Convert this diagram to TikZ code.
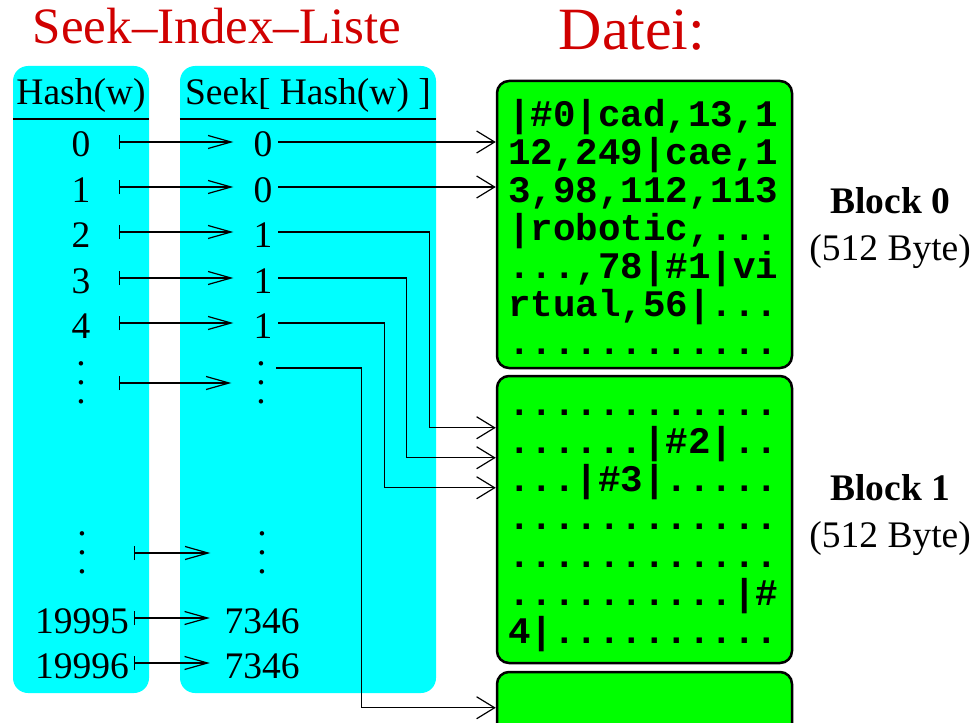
\documentclass[tikz,border=0pt]{standalone}
\usepackage{fontspec}
\setmainfont{Liberation Serif}
\setmonofont{Liberation Mono}
\usetikzlibrary{arrows.meta, positioning}

\definecolor{titlered}{RGB}{208,0,0}
\definecolor{listcyan}{RGB}{0,255,255}
\definecolor{blockgreen}{RGB}{0,255,0}

% three stacked dots, spaced for the big body font
\newcommand{\colvdots}{\vbox{\baselineskip=19pt\lineskiplimit=-50pt\hbox{.}\hbox{.}\hbox{.}}}

\begin{document}
\begin{tikzpicture}[x=1pt, y=-1pt,
    every node/.style={inner sep=0pt},
    bodyfont/.style={font=\fontsize{37.5}{42}\selectfont},
    listcol/.style={fill=listcyan, rounded corners=15pt, minimum height=627pt},
    headrule/.style={line width=2pt},
    hashval/.style={bodyfont, minimum width=76pt, text height=37.5pt, text depth=7.5pt},
    hashwide/.style={bodyfont, minimum width=104pt, text height=37.5pt, text depth=7.5pt},
    seekval/.style={bodyfont, minimum width=30pt, text height=37.5pt, text depth=7.5pt},
    seekwide/.style={bodyfont, minimum width=74pt, text height=37.5pt, text depth=7.5pt},
    mapsto/.style={line width=1.2pt, {Bar[width=14pt]}-{Straight Barb[length=23pt,width=13pt]}, shorten >=14.5pt},
    fileptr/.style={line width=1.2pt, -{Straight Barb[length=18pt,width=22pt]}},
    fileblock/.style={draw, line width=2.5pt, fill=blockgreen, rounded corners=12pt,
        minimum width=295pt, minimum height=287pt},
    blocktext/.style={font={\ttfamily\bfseries\fontsize{37.5}{38}\selectfont\lineskiplimit=-30pt},
        anchor=base west, text width=290pt, align=left},
    blklabel/.style={font=\fontsize{37.5}{47}\selectfont, align=center}]

    \clip (0,0) rectangle (976,722);

    % titles
    \node[font=\fontsize{51}{60}\selectfont, text=titlered, anchor=base] (listtitle) at (217,44) {Seek\textendash Index\textendash Liste};
    \node[font=\fontsize{60}{70}\selectfont, text=titlered, anchor=base] (filetitle) at (632,50) {Datei:};

    % the two columns of the index list
    \node[listcol, minimum width=136pt] (hcol) at (81,379.5) {};
    \node[listcol, minimum width=256pt] (scol) at (308,379.5) {};
    \node[bodyfont, anchor=base] (hhead) at (81,105) {Hash(w)};
    \node[bodyfont, anchor=base] (shead) at (308,105) {Seek[ Hash(w) ]};
    \draw[headrule] ([yshift=-53pt]hcol.north west) -- ([yshift=-53pt]hcol.north east);
    \draw[headrule] ([yshift=-53pt]scol.north west) -- ([yshift=-53pt]scol.north east);

    % blocks of the file
    \node[fileblock] (blk0) at (644.5,224.5) {};
    \node[fileblock] (blk1) at (644.5,519.5) {};
    \node[fileblock] (blk2) at (644.5,815.5) {};

    \node[blocktext] (txt0) at (508,127) {|\#0|cad,13,1\\12,249|cae,1\\3,98,112,113\\|robotic,...\\...,78|\#1|vi\\rtual,56|...\\............};
    \node[blocktext] (txt1) at (508,415) {............\\......|\#2|..\\...|\#3|.....\\............\\............\\..........|\#\\4|..........};

    \node[blklabel, right=16pt of blk0, yshift=-4pt] (lbl0) {\textbf{Block 0}\\(512 Byte)};
    \node[blklabel, right=16pt of blk1, yshift=4pt] (lbl1) {\textbf{Block 1}\\(512 Byte)};

    % first entries
    \foreach \i/\y/\s in {0/142/0, 1/187/0, 2/232/1, 3/278/1, 4/323/1} {
        \node[hashval] (h\i) at (81,\y) {\i};
        \node[seekval] (s\i) at (263,\y) {\s};
        \draw[mapsto] (h\i) -- (s\i);
    }
    \node[bodyfont, minimum width=76pt] (hd) at (81,383) {\colvdots};
    \node[bodyfont, minimum width=30pt] (sd) at (261,383) {\colvdots};
    \draw[mapsto] (hd) -- (sd);

    % last entries
    \node[bodyfont, minimum width=104pt] (hdd) at (82,553) {\colvdots};
    \node[bodyfont, minimum width=74pt] (sdd) at (262,553) {\colvdots};
    \draw[mapsto] (hdd) -- (sdd);
    \foreach \k/\y in {19995/618, 19996/663} {
        \node[hashwide] (h\k) at (82,\y) {\k};
        \node[seekwide] (s\k) at (262,\y) {7346};
        \draw[mapsto] (h\k) -- (s\k);
    }

    % seek positions into the file
    \draw[fileptr] (s0.east) -- (s0.east -| blk0.west);
    \draw[fileptr] (s1.east) -- (s1.east -| blk0.west);
    \draw[fileptr] (s2.east) -- ++(151,0) |- ([yshift=-53pt]blk1.north west);
    \draw[fileptr] (s3.east) -- ++(128,0) |- ([yshift=-83pt]blk1.north west);
    \draw[fileptr] (s4.east) -- ++(106,0) |- ([yshift=-113pt]blk1.north west);
    \draw[fileptr] ([yshift=15pt]sd.east) -- ++(85,0) |- ([yshift=-37pt]blk2.north west);
\end{tikzpicture}
\end{document}
